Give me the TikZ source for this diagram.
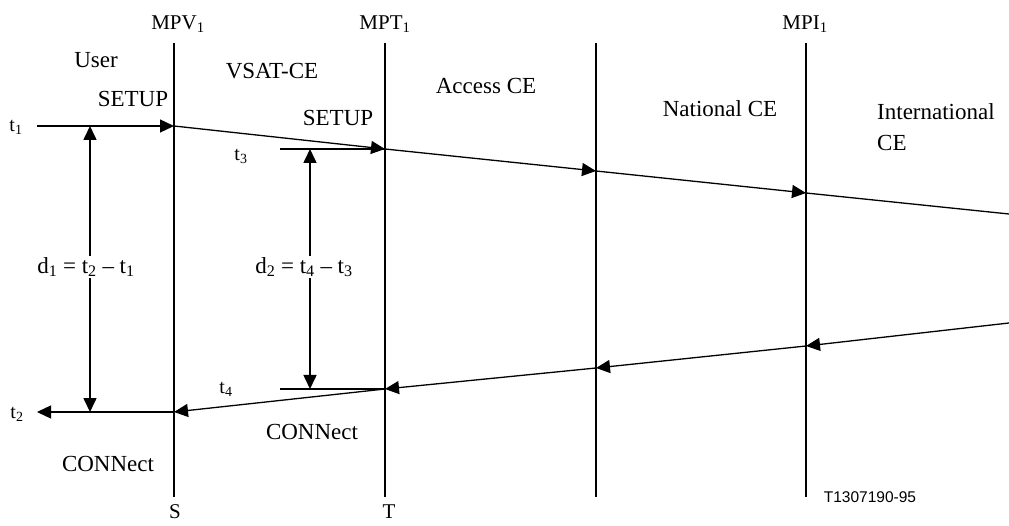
\documentclass[tikz,border=0pt]{standalone}
\usepackage{fontspec}
\setmainfont{Liberation Serif}
\newfontfamily\figfont{Liberation Sans}
\usetikzlibrary{arrows.meta}
\tikzset{
  tip/.tip={Triangle[length=14pt,width=13pt]},
  lifeline/.style={line width=1.6pt},
  msg/.style={line width=1.3pt, -tip},
  plain/.style={line width=1.3pt},
  span/.style={line width=1.6pt, tip-tip},
  lbl/.style={inner sep=1pt, font=\fontsize{23}{31}\selectfont},
  mplbl/.style={inner sep=1pt, font=\fontsize{21}{25}\selectfont},
  tlbl/.style={inner sep=1pt, font=\fontsize{20}{24}\selectfont},
}
\begin{document}
\begin{tikzpicture}[x=1pt,y=-1pt]
  \path[use as bounding box] (0,0) rectangle (1009,526);

  % lifelines
  \foreach \n/\x in {V/174, T/385, A/596, I/806} {
    \coordinate (\n top) at (\x,43);
    \coordinate (\n bot) at (\x,497);
    \draw[lifeline] (\n top) -- (\n bot);
  }

  % SETUP path
  \coordinate (a0) at (37,126);
  \coordinate (a1) at (174,126);
  \coordinate (a2) at (385,149);
  \coordinate (a3) at (596,171);
  \coordinate (a4) at (806,193);
  \coordinate (a5) at (1009,214);
  \draw[msg] (a0) -- (a1);
  \draw[msg] (a1) -- (a2);
  \draw[msg] (a2) -- (a3);
  \draw[msg] (a3) -- (a4);
  \draw[plain] (a4) -- (a5);

  % CONNect path
  \coordinate (b0) at (1009,323);
  \coordinate (b1) at (806,346);
  \coordinate (b2) at (596,368);
  \coordinate (b3) at (385,389);
  \coordinate (b4) at (174,412);
  \coordinate (b5) at (37,412);
  \draw[msg] (b0) -- (b1);
  \draw[msg] (b1) -- (b2);
  \draw[msg] (b2) -- (b3);
  \draw[msg] (b3) -- (b4);
  \draw[msg] (b4) -- (b5);

  % time marks at MPT
  \coordinate (c3) at (280,149);
  \coordinate (c4) at (280,389);
  \draw[plain] (c3) -- (a2);
  \draw[plain] (c4) -- (b3);

  % delay spans
  \coordinate (d1top) at (90,126);
  \coordinate (d1bot) at (90,412);
  \coordinate (d2top) at (310,149);
  \coordinate (d2bot) at (310,389);
  \draw[span] (d1top) -- (d1bot);
  \draw[span] (d2top) -- (d2bot);
  \node[lbl, fill=white] (d1) at (86,267) {d\textsubscript{1} = t\textsubscript{2} – t\textsubscript{1}};
  \node[lbl, fill=white] (d2) at (304,267) {d\textsubscript{2} = t\textsubscript{4} – t\textsubscript{3}};

  % interface names
  \node[mplbl] (mpv) at (178,24) {MPV\textsubscript{1}};
  \node[mplbl] (mpt) at (385,24) {MPT\textsubscript{1}};
  \node[mplbl] (mpi) at (805,24) {MPI\textsubscript{1}};
  \node[mplbl] (s) at (175,512) {S};
  \node[mplbl] (t) at (389,512) {T};

  % domain names
  \node[lbl] (user) at (96,60) {User};
  \node[lbl] (vsat) at (272,71) {VSAT-CE};
  \node[lbl] (acc) at (486,86) {Access CE};
  \node[lbl] (nat) at (720,109) {National CE};
  \node[lbl, anchor=west, align=left] (intl) at (876,127) {International\\CE};

  % message names
  \node[lbl] (setup1) at (133,99) {SETUP};
  \node[lbl] (setup2) at (338,118) {SETUP};
  \node[lbl] (conn1) at (108,464) {CONNect};
  \node[lbl] (conn2) at (312,432) {CONNect};

  % time labels
  \node[tlbl] (t1) at (16,127) {t\textsubscript{1}};
  \node[tlbl] (t2) at (17,414) {t\textsubscript{2}};
  \node[tlbl] (t3) at (241,156) {t\textsubscript{3}};
  \node[tlbl] (t4) at (226,389) {t\textsubscript{4}};

  \node[inner sep=1pt, font=\figfont\fontsize{15.5}{18}\selectfont] (fig) at (870,497) {T1307190-95};
\end{tikzpicture}
\end{document}
